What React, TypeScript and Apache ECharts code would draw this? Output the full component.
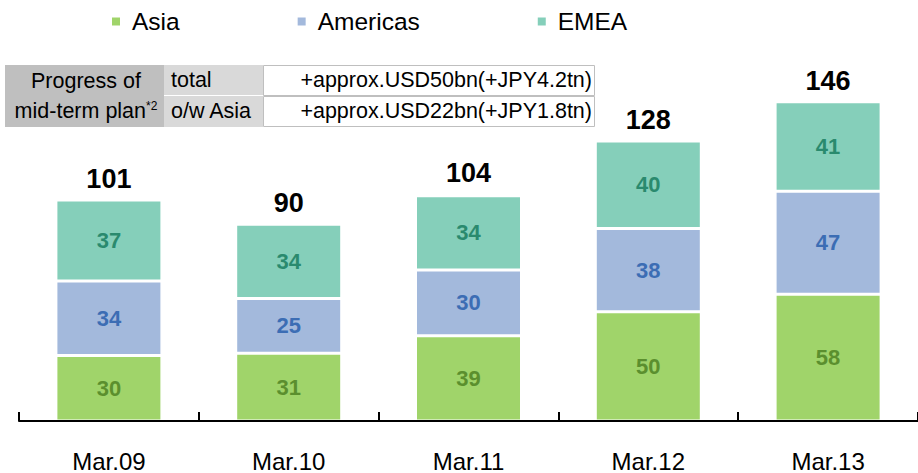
import React, { useEffect, useRef } from "react";
import * as echarts from "echarts";

const categories = ["Mar.09", "Mar.10", "Mar.11", "Mar.12", "Mar.13"];
const asia = [30, 31, 39, 50, 58];
const americas = [34, 25, 30, 38, 47];
const emea = [37, 34, 34, 40, 41];
const totals = [101, 90, 104, 128, 146];
const seriesNames = ["Asia", "Americas", "EMEA"];
const tableHeader = ["Progress of", "mid-term plan"];
const tableRowLabels = ["total", "o/w Asia"];
const tableRowValues = ["+approx.USD50bn(+JPY4.2tn)", "+approx.USD22bn(+JPY1.8tn)"];

const FONT = "'Liberation Sans', Arial, Helvetica, sans-serif";
const colors = { asia: "#A0D46A", americas: "#A3B9DC", emea: "#85CFBA" };
const labelColors = { asia: "#5B8F2E", americas: "#3C6DB4", emea: "#2A8A6E" };

export default function App() {
  const ref = useRef<HTMLDivElement>(null);
  useEffect(() => {
    if (!ref.current) return;
    const chart = echarts.init(ref.current, null, { renderer: "svg" });
    const segLabel = (color: string) => ({
      show: true,
      position: "inside",
      fontSize: 22,
      fontWeight: "bold",
      fontFamily: FONT,
      color,
    });
    const barCommon = {
      type: "bar",
      stack: "total",
      barWidth: 106,
      itemStyle: { borderColor: "#fff", borderWidth: 1.5 },
    };
    const tableText = (x: number, y: number, text: string, align: string, rich?: any) => ({
      type: "text",
      x,
      y,
      z: 10,
      style: {
        text,
        fontSize: 21.5,
        fontFamily: FONT,
        fill: "#000",
        align,
        verticalAlign: "middle",
        rich,
      },
    });
    chart.setOption({
      animation: false,
      backgroundColor: "#fff",
      legend: {
        data: seriesNames,
        left: 110,
        top: 9,
        padding: 0,
        icon: "rect",
        itemWidth: 10,
        itemHeight: 10,
        itemGap: 116,
        textStyle: { fontSize: 24.5, color: "#000", fontFamily: FONT, padding: [0, 0, 0, 6] },
      },
      grid: { left: 19, width: 902, top: 71, bottom: 50 },
      xAxis: {
        type: "category",
        data: categories,
        axisLine: { show: true, lineStyle: { color: "#000", width: 2 } },
        axisTick: { show: true, inside: true, length: 9, interval: 0, lineStyle: { color: "#000", width: 2 } },
        axisLabel: { fontSize: 24, color: "#000", fontFamily: FONT, margin: 28 },
        z: 10,
      },
      yAxis: { type: "value", min: 0, max: 160, show: false, splitLine: { show: false } },
      graphic: [
        { type: "rect", z: 10, shape: { x: 5, y: 65, width: 159, height: 62 }, style: { fill: "#BFBFBF" } },
        { type: "rect", z: 10, shape: { x: 164, y: 65, width: 99, height: 30 }, style: { fill: "#D9D9D9" } },
        { type: "rect", z: 10, shape: { x: 164, y: 96, width: 99, height: 31 }, style: { fill: "#D9D9D9" } },
        { type: "rect", z: 10, shape: { x: 263.5, y: 65.5, width: 331, height: 30 }, style: { fill: "#fff", stroke: "#BFBFBF", lineWidth: 1 } },
        { type: "rect", z: 10, shape: { x: 263.5, y: 96.5, width: 331, height: 30 }, style: { fill: "#fff", stroke: "#BFBFBF", lineWidth: 1 } },
        tableText(86, 81, tableHeader[0], "center"),
        tableText(86, 111, tableHeader[1] + "{sup|*2}", "center", {
          sup: { fontSize: 12, fontFamily: FONT, fill: "#000", verticalAlign: "top", padding: [0, 0, 8, 0] },
        }),
        tableText(171, 80, tableRowLabels[0], "left"),
        tableText(171, 111, tableRowLabels[1], "left"),
        tableText(592, 80, tableRowValues[0], "right"),
        tableText(592, 111, tableRowValues[1], "right"),
      ],
      series: [
        { ...barCommon, name: seriesNames[0], data: asia, itemStyle: { ...barCommon.itemStyle, color: colors.asia }, label: segLabel(labelColors.asia) },
        { ...barCommon, name: seriesNames[1], data: americas, itemStyle: { ...barCommon.itemStyle, color: colors.americas }, label: segLabel(labelColors.americas) },
        { ...barCommon, name: seriesNames[2], data: emea, itemStyle: { ...barCommon.itemStyle, color: colors.emea }, label: segLabel(labelColors.emea) },
        {
          type: "line",
          name: "Total",
          data: totals,
          symbol: "circle",
          symbolSize: 1,
          itemStyle: { color: "rgba(0,0,0,0)" },
          lineStyle: { width: 0, opacity: 0 },
          label: {
            show: true,
            position: "top",
            distance: 7,
            fontSize: 27,
            fontWeight: "bold",
            fontFamily: FONT,
            color: "#000",
          },
          z: 5,
        },
      ],
    });
    return () => chart.dispose();
  }, []);
  return (
    <div
      ref={ref}
      style={{ position: "fixed", left: 0, top: 0, width: 918, height: 473, background: "#fff" }}
    />
  );
}
